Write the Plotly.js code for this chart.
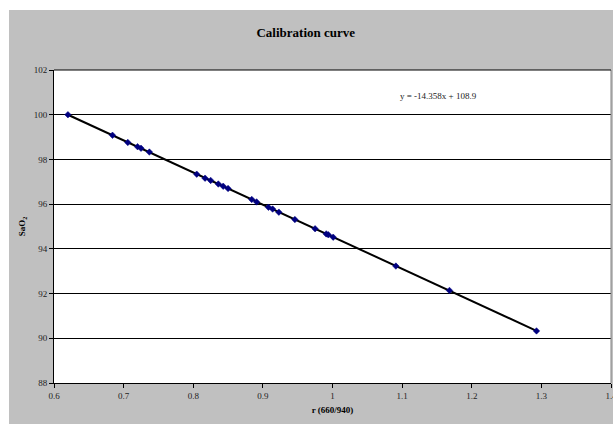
<!DOCTYPE html>
<html>
<head>
<meta charset="utf-8">
<script src="https://cdn.plot.ly/plotly-3.0.1.min.js"></script>
<style>
  html, body { margin: 0; padding: 0; background: #ffffff; overflow: hidden; width: 613px; height: 424px; }
  #chart { position: absolute; left: 9px; top: 10px; width: 640px; height: 414px; }
</style>
</head>
<body>
<div id="chart"></div>
<script>
// Measured points: ratio r (660/940) and SaO2 (%)
const ratioR = [0.620, 0.684, 0.706, 0.720, 0.725, 0.737, 0.805, 0.817, 0.825, 0.836, 0.843, 0.850,
                0.884, 0.891, 0.908, 0.914, 0.923, 0.946, 0.975, 0.991, 0.994, 1.001, 1.091, 1.168, 1.293];
const sao2   = [100.00, 99.08, 98.76, 98.57, 98.50, 98.33, 97.34, 97.16, 97.06, 96.90, 96.80, 96.70,
                96.21, 96.10, 95.86, 95.78, 95.64, 95.31, 94.90, 94.67, 94.63, 94.52, 93.23, 92.14, 90.33];
// Linear trendline shown on the chart
const trendSlope = -14.358;
const trendIntercept = 108.9;
const trendLabel = 'y = -14.358x + 108.9';
const xTicks = [0.6, 0.7, 0.8, 0.9, 1, 1.1, 1.2, 1.3, 1.4];
const yTicks = [88, 90, 92, 94, 96, 98, 100, 102];

const trendX = [Math.min(...ratioR), Math.max(...ratioR)];
const trendY = trendX.map(v => trendSlope * v + trendIntercept);

const serif = '"Liberation Serif", "DejaVu Serif", serif';

const traces = [
  {
    x: trendX, y: trendY, type: 'scatter', mode: 'lines',
    line: { color: '#000000', width: 2 }, hoverinfo: 'skip', showlegend: false
  },
  {
    x: ratioR, y: sao2, type: 'scatter', mode: 'markers',
    marker: { symbol: 'diamond', size: 5, color: '#000080', line: { color: '#000080', width: 0.5 } },
    showlegend: false
  }
];

const layout = {
  width: 640, height: 414,
  paper_bgcolor: '#c0c0c0',
  plot_bgcolor: '#ffffff',
  margin: { l: 45, r: 38, t: 60, b: 41 },
  title: {
    text: '<b>Calibration curve</b>',
    font: { family: serif, size: 13, color: '#000000' },
    xref: 'paper', x: 0.452, xanchor: 'center',
    yref: 'container', y: 0.945, yanchor: 'middle'
  },
  xaxis: {
    range: [0.6, 1.4], tickvals: xTicks, ticktext: xTicks.map(String),
    showgrid: false, zeroline: false,
    showline: true, linecolor: '#000000', linewidth: 1,
    ticks: 'outside', ticklen: 4, tickcolor: '#000000', tickwidth: 1,
    tickfont: { family: serif, size: 9, color: '#222222' },
    title: { text: '<b>r (660/940)</b>', font: { family: serif, size: 9, color: '#000000' }, standoff: 6 }
  },
  yaxis: {
    range: [88, 102], tickvals: yTicks,
    showgrid: true, gridcolor: '#000000', gridwidth: 1, zeroline: false,
    showline: true, linecolor: '#000000', linewidth: 1,
    ticks: 'outside', ticklen: 4, tickcolor: '#000000', tickwidth: 1,
    tickfont: { family: serif, size: 9, color: '#222222' },
    title: { text: '<b>SaO<sub>2</sub></b>', font: { family: serif, size: 9, color: '#000000' }, standoff: 6 }
  },
  shapes: [
    { type: 'line', xref: 'paper', yref: 'paper', x0: 1, x1: 1, y0: 0, y1: 1,
      line: { color: '#808080', width: 1 } },
    { type: 'line', xref: 'paper', yref: 'paper', x0: 0, x1: 1, y0: 1, y1: 1,
      line: { color: '#000000', width: 1 } }
  ],
  annotations: [
    { text: trendLabel, xref: 'x', yref: 'y', x: 1.152, y: 100.85, showarrow: false,
      font: { family: serif, size: 9, color: '#222222' }, xanchor: 'center', yanchor: 'middle' }
  ]
};

Plotly.newPlot('chart', traces, layout, { displayModeBar: false, staticPlot: true });
</script>
</body>
</html>
